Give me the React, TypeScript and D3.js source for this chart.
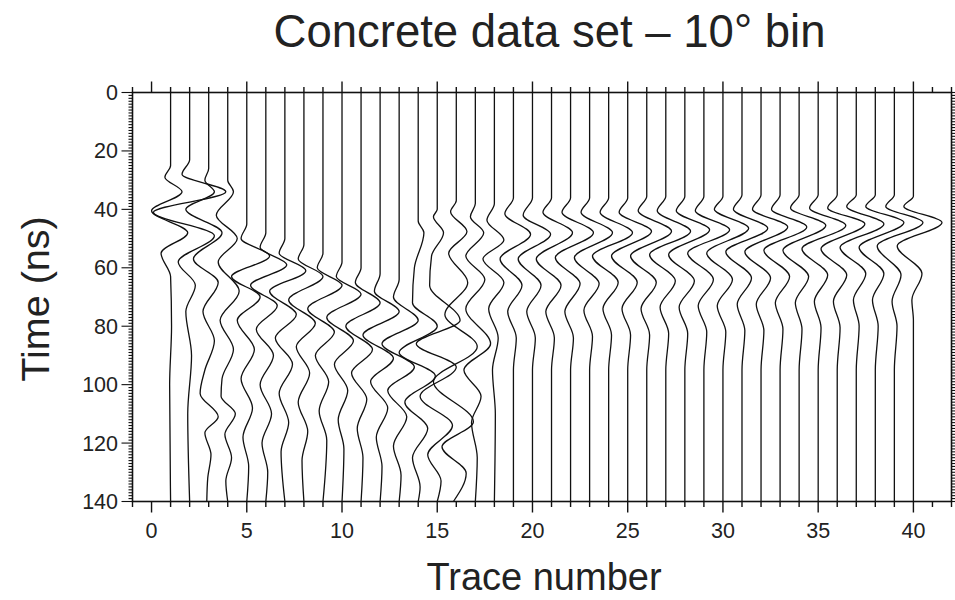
import React from "react";
import * as d3 from "d3";

// Wiggle traces: each entry is [time (ns), horizontal deflection in trace units]
const t01: [number, number][] = [[0,0],[25,0],[29,-0.3],[34,0.6],[40.5,-1.0],[48,0.9],[55,-0.5],[63,0],[80,0.05],[100,-0.05],[140,0]];
const t02: [number, number][] = [[0,0],[23,0],[28,-0.4],[34,1.9],[41,-1.9],[49,1.3],[58,-0.6],[66,0.3],[75,-0.2],[90,0.1],[110,-0.1],[140,0]];
const t03: [number, number][] = [[0,0],[26,0],[30,-0.2],[34,0.3],[40,-1.2],[48,0.7],[57,-0.8],[65,0.5],[75,-0.3],[85,0.3],[95,-0.2],[103,-0.45],[111,0.5],[116.5,-0.2],[124,0.12],[132,-0.05],[140,-0.1]];
const t04: [number, number][] = [[0,0],[30,0],[34,0.3],[42,-0.6],[50,0.5],[58,-0.5],[68,0.6],[78,-0.4],[88,0.3],[98,-0.3],[104,-0.35],[110,0.4],[117,-0.15],[125,0.2],[133,-0.1],[140,0]];
const t05: [number, number][] = [[0,0],[45,0],[50,-0.3],[56,1.2],[63,-0.8],[70,0.7],[78,-0.5],[88,0.4],[98,-0.3],[108,0.3],[118,-0.2],[128,0.1],[140,0]];
const t06: [number, number][] = [[0,0],[48,0],[53,-0.3],[59,1.1],[66,-0.8],[73,0.6],[81,-0.5],[90,0.4],[100,-0.3],[110,0.3],[120,-0.2],[130,0.1],[140,0]];
const t07: [number, number][] = [[0,0],[50,0],[55,-0.3],[61,1.1],[68,-0.8],[76,0.6],[84,-0.5],[93,0.4],[103,-0.3],[113,0.2],[123,-0.2],[140,0]];
const t08: [number, number][] = [[0,0],[52,0],[57,-0.3],[63,1.0],[71,-0.8],[79,0.6],[87,-0.4],[96,0.3],[106,-0.3],[116,0.2],[126,-0.1],[140,0]];
const t09: [number, number][] = [[0,0],[55,0],[60,-0.3],[66,1.0],[74,-0.8],[82,0.6],[90,-0.4],[99,0.3],[109,-0.2],[119,0.2],[140,0]];
const t10: [number, number][] = [[0,0],[58,0],[63,-0.3],[69,1.0],[77,-0.8],[85,0.6],[93,-0.4],[102,0.3],[112,-0.2],[122,0.1],[140,0]];
const t11: [number, number][] = [[0,0],[60,0],[65,-0.3],[72,1.0],[80,-0.8],[88,0.6],[96,-0.5],[105,0.3],[115,-0.2],[125,0.1],[140,0]];
const t12: [number, number][] = [[0,0],[62,0],[68,-0.3],[75,1.0],[83,-0.9],[91,0.7],[99,-0.5],[108,0.4],[118,-0.2],[128,0.1],[140,0]];
const t13: [number, number][] = [[0,0],[64,0],[70,-0.3],[78,1.0],[86,-0.9],[94,0.8],[102,-0.6],[111,0.4],[121,-0.3],[131,0.1],[140,0]];
const t14: [number, number][] = [[0,0],[44,0],[48,0.3],[60,-0.2],[72,-0.3],[80,1.0],[89,-1.0],[97,0.9],[106,-0.7],[115,0.5],[125,-0.3],[135,0.1],[140,0]];
const t15: [number, number][] = [[0,0],[40,0],[42.5,-0.2],[48,0.33],[56,-0.3],[66,-0.4],[78,1.2],[86,-1.1],[94,1.0],[104,-0.9],[114,0.8],[124,-0.5],[133,0.2],[140,0]];
const t16: [number, number][] = [[0,0],[37,0],[40.8,-0.3],[47.6,0.56],[55,-0.4],[65,0.6],[76,-0.6],[87,1.1],[99,-1.2],[112.7,0.9],[121.3,-0.75],[130.3,0.52],[140,-0.15]];
const t17: [number, number][] = [[0,0],[38,0],[42.5,-0.26],[48,0.44],[56,-0.5],[64,0.5],[74,-0.5],[86,0.8],[95,-0.6],[104,0.3],[113,-0.2],[125,0.1],[140,0]];
const t18: [number, number][] = [[0,0],[38,0],[43.7,-0.39],[50.5,0.5],[57,-0.6],[65,0.5],[74,-0.3],[84,0.2],[95,-0.1],[110,0.05],[140,0]];
const t19: [number, number][] = [[0,0],[36,0],[41.5,-0.45],[48.5,0.9],[57,-0.7],[66,0.45],[75,-0.3],[84,0.15],[95,0],[140,0]];
const t20: [number, number][] = [[0,0],[36,0],[42,-0.49],[48.5,0.95],[57,-0.75],[66,0.45],[75,-0.3],[84,0.15],[95,0],[140,0]];
const t21: [number, number][] = [[0,0],[36,0],[41,-0.45],[48,1.1],[57,-0.8],[66,0.5],[75,-0.3],[84,0.15],[95,0],[140,0]];
const t22: [number, number][] = [[0,0],[36,0],[41,-0.45],[48,1.2],[56.5,-0.8],[65.5,0.5],[75,-0.3],[84,0.15],[95,0],[140,0]];
const t23: [number, number][] = [[0,0],[36,0],[41,-0.45],[48,1.2],[56.5,-0.8],[65.5,0.5],[74.5,-0.3],[83.5,0.15],[95,0],[140,0]];
const t24: [number, number][] = [[0,0],[36,0],[41,-0.45],[48,1.25],[56,-0.85],[65,0.5],[74,-0.3],[83,0.15],[95,0],[140,0]];
const t25: [number, number][] = [[0,0],[36,0],[41,-0.45],[47.5,1.25],[56,-0.85],[65,0.5],[74,-0.3],[83,0.15],[95,0],[140,0]];
const t26: [number, number][] = [[0,0],[35.5,0],[40.5,-0.45],[47.5,1.3],[56,-0.85],[65,0.5],[74,-0.3],[83,0.15],[95,0],[140,0]];
const t27: [number, number][] = [[0,0],[35.5,0],[40.5,-0.45],[47.5,1.3],[55.5,-0.85],[64.5,0.5],[73.5,-0.3],[82.5,0.15],[95,0],[140,0]];
const t28: [number, number][] = [[0,0],[35.5,0],[40.5,-0.45],[47,1.3],[55.5,-0.85],[64.5,0.5],[73.5,-0.3],[82.5,0.15],[95,0],[140,0]];
const t29: [number, number][] = [[0,0],[35.5,0],[40.5,-0.45],[47,1.35],[55,-0.85],[64,0.5],[73,-0.3],[82,0.15],[95,0],[140,0]];
const t30: [number, number][] = [[0,0],[35.5,0],[40,-0.45],[46.5,1.35],[55,-0.85],[64,0.5],[73,-0.3],[82,0.15],[95,0],[140,0]];
const t31: [number, number][] = [[0,0],[35,0],[40,-0.45],[46.5,1.35],[54.5,-0.85],[63.5,0.5],[72.5,-0.25],[81.5,0.15],[95,0],[140,0]];
const t32: [number, number][] = [[0,0],[35,0],[40,-0.45],[46,1.4],[54.5,-0.85],[63.5,0.5],[72.5,-0.25],[81.5,0.15],[95,0],[140,0]];
const t33: [number, number][] = [[0,0],[35,0],[40,-0.45],[46,1.4],[54,-0.85],[63,0.5],[72,-0.25],[81,0.15],[95,0],[140,0]];
const t34: [number, number][] = [[0,0],[35,0],[39.5,-0.45],[45.5,1.4],[54,-0.85],[63,0.5],[72,-0.2],[81,0.15],[95,0],[140,0]];
const t35: [number, number][] = [[0,0],[35,0],[39.5,-0.45],[45.5,1.45],[53.5,-0.85],[62.5,0.5],[71.5,-0.2],[80.5,0.15],[95,0],[140,0]];
const t36: [number, number][] = [[0,0],[35,0],[39.5,-0.5],[45,1.45],[53.5,-0.85],[62.5,0.5],[71.5,-0.2],[80.5,0.15],[95,0],[140,0]];
const t37: [number, number][] = [[0,0],[35,0],[39,-0.5],[45,1.45],[53,-0.85],[62,0.5],[71,-0.15],[80,0.15],[95,0],[140,0]];
const t38: [number, number][] = [[0,0],[35,0],[39,-0.5],[44.5,1.5],[53,-0.85],[62,0.45],[71,-0.15],[80,0.15],[95,0],[140,0]];
const t39: [number, number][] = [[0,0],[35,0],[39,-0.45],[44.5,1.5],[52.5,-0.9],[62.5,0.35],[71.5,-0.12],[80,0.14],[95,0],[140,0]];
const t40: [number, number][] = [[0,0],[35.5,0],[39,-0.5],[44.5,1.5],[52.5,-0.85],[62,0.45],[71,-0.08],[78,0],[140,0]];

const traces = [t01,t02,t03,t04,t05,t06,t07,t08,t09,t10,t11,t12,t13,t14,t15,t16,t17,t18,t19,t20,
  t21,t22,t23,t24,t25,t26,t27,t28,t29,t30,t31,t32,t33,t34,t35,t36,t37,t38,t39,t40];

const xMajorTicks = [0, 5, 10, 15, 20, 25, 30, 35, 40];
const yMajorTicks = [0, 20, 40, 60, 80, 100, 120, 140];

const title = "Concrete data set \u2013 10\u00b0 bin";
const xLabel = "Trace number";
const yLabel = "Time (ns)";

const W = 955;
const H = 600;
const FONT = "'Liberation Sans', Arial, Helvetica, sans-serif";

export default function App() {
  const x = d3.scaleLinear().domain([-1, 42]).range([132.5, 951.5]);
  const y = d3.scaleLinear().domain([0, 140]).range([92.5, 501.5]);
  const [x0, x1] = x.range();
  const [y0, y1] = y.range();

  const xMinor = d3.range(-1, 43);
  const yMinor = d3.range(0, 141, 1);

  return (
    <svg width={W} height={H} style={{ position: "absolute", left: 0, top: 0, background: "#fff" }}>
      <rect x={0} y={0} width={W} height={H} fill="#fff" />
      <text x={549.5} y={47} textAnchor="middle" fontFamily={FONT} fontSize={45.5} fill="#222">{title}</text>

      <g>
        {traces.map((pts, i) => {
          const k = i + 1;
          const line = d3.line<[number, number]>()
            .x((d) => x(k + d[1]))
            .y((d) => y(d[0]))
            .curve(d3.curveMonotoneY);
          return <path key={k} d={line(pts) || ""} fill="none" stroke="#111" strokeWidth={1.3} />;
        })}
      </g>

      {/* frame */}
      <rect x={x0} y={y0} width={x1 - x0} height={y1 - y0} fill="none" stroke="#111" strokeWidth={1.6} />

      {/* x ticks, bottom and top */}
      {xMinor.map((v) => {
        const major = v % 5 === 0;
        const len = major ? 11 : 5.5;
        return (
          <g key={"xt" + v}>
            <line x1={x(v)} x2={x(v)} y1={y1} y2={y1 + len} stroke="#111" strokeWidth={1.4} />
            <line x1={x(v)} x2={x(v)} y1={y0} y2={y0 - len} stroke="#111" strokeWidth={1.4} />
          </g>
        );
      })}
      {/* y ticks, left and right */}
      {yMinor.map((v) => {
        const major = v % 20 === 0;
        const len = major ? 11 : 4;
        return (
          <g key={"yt" + v}>
            <line x1={x0} x2={x0 - len} y1={y(v)} y2={y(v)} stroke="#111" strokeWidth={1.1} />
            <line x1={x1} x2={x1 + len} y1={y(v)} y2={y(v)} stroke="#111" strokeWidth={1.1} />
          </g>
        );
      })}

      {xMajorTicks.map((v) => (
        <text key={"xl" + v} x={x(v)} y={538} textAnchor="middle" fontFamily={FONT} fontSize={21.5} fill="#222">{v}</text>
      ))}
      {yMajorTicks.map((v) => (
        <text key={"yl" + v} x={118} y={y(v) + 7.5} textAnchor="end" fontFamily={FONT} fontSize={21.5} fill="#222">{v}</text>
      ))}

      <text x={544} y={590} textAnchor="middle" fontFamily={FONT} fontSize={38} fill="#222">{xLabel}</text>
      <text transform={`translate(49, 299) rotate(-90)`} textAnchor="middle" fontFamily={FONT} fontSize={39.5} fill="#222">{yLabel}</text>
    </svg>
  );
}
